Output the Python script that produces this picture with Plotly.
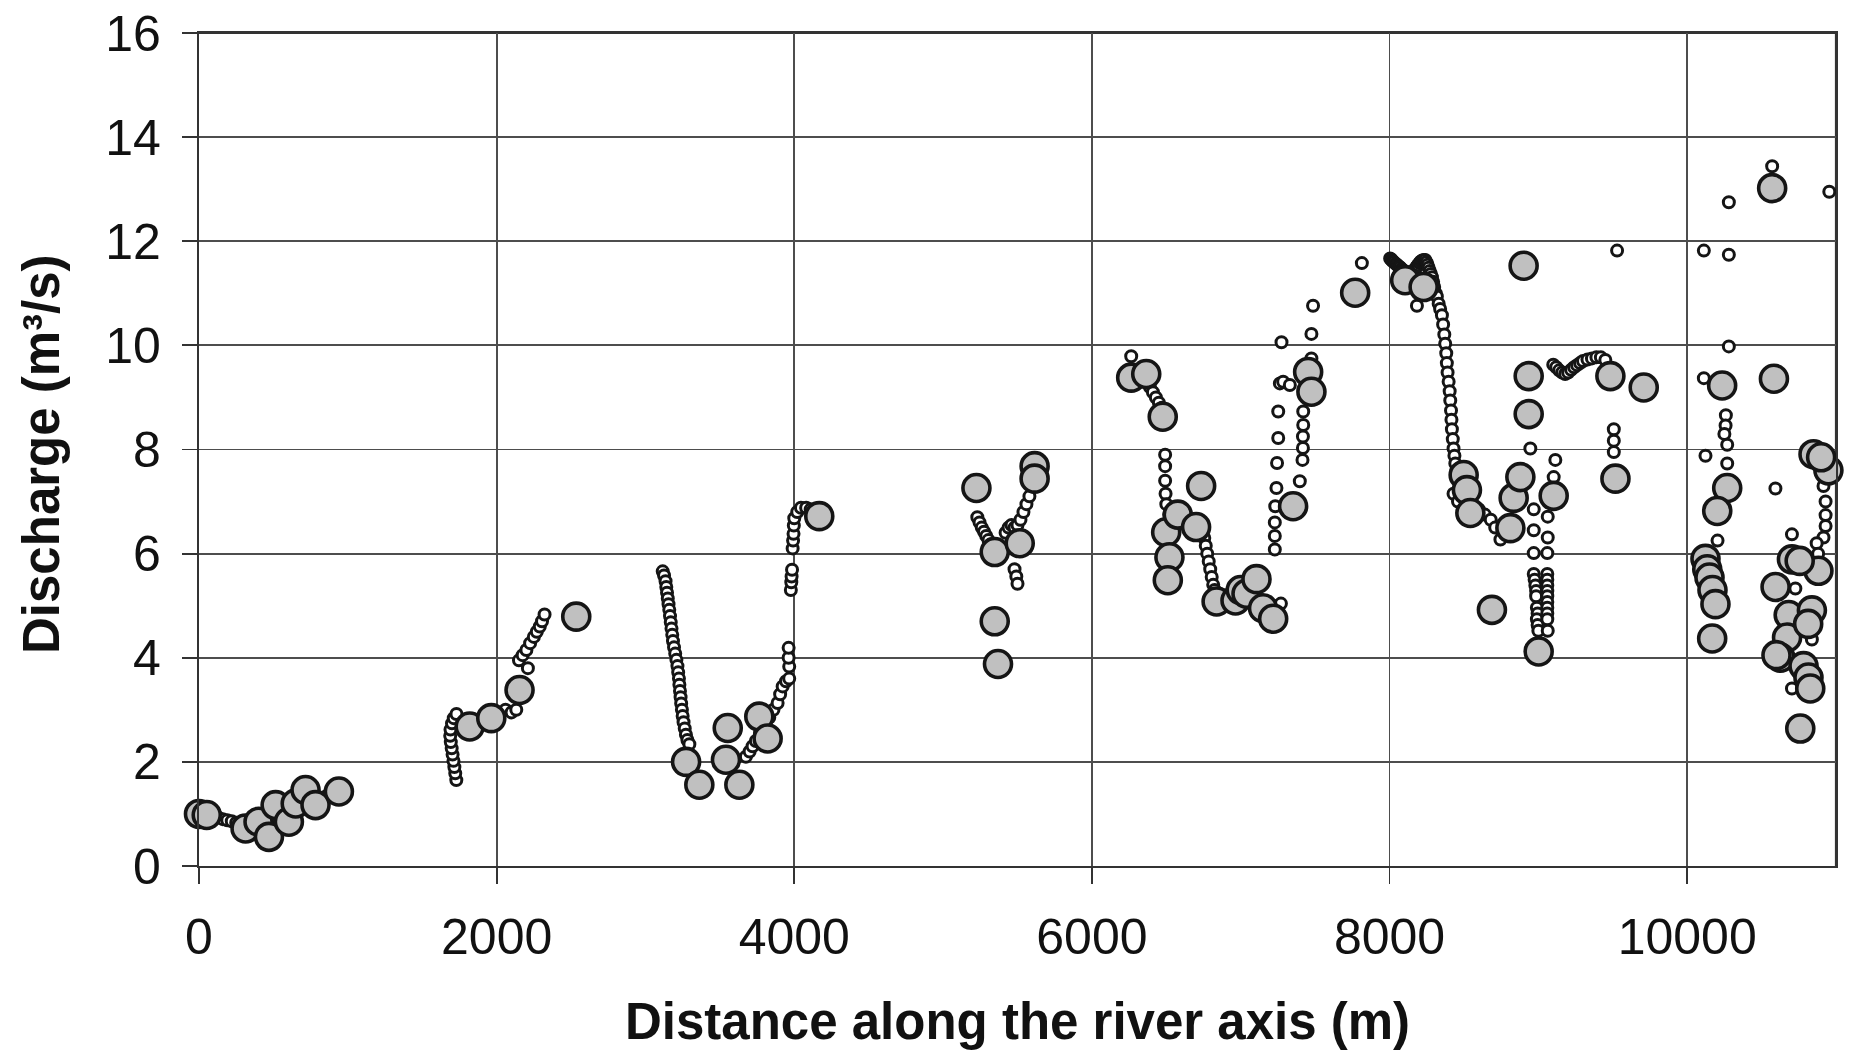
import plotly.graph_objects as go

# ---------------- data ----------------
# small open circles
small_x = [100, 130, 160, 190, 220, 250, 280, 310, 340, 370, 400, 430, 460, 490, 520, 550, 580, 620, 660, 700, 740, 780, 820, 860, 900,
           1729, 1722, 1716, 1710, 1704, 1698, 1692, 1688, 1690, 1700, 1712, 1730,
           2060, 2100, 2132, 2150, 2175, 2200, 2210, 2225, 2250, 2270, 2290, 2305, 2322,
           3116, 3125, 3135, 3140, 3145, 3150, 3155, 3160, 3165, 3170, 3175, 3180, 3185, 3192, 3200, 3208, 3215, 3220, 3225, 3228,
           3232, 3236, 3240, 3245, 3250, 3256, 3264, 3272, 3282, 3295,
           3675, 3700, 3720, 3742, 3770, 3800, 3832, 3860, 3888, 3905, 3922, 3945, 3966, 3966, 3962, 3962,
           3977, 3980, 3982, 3985, 3989, 3992, 3995, 3997, 4000, 4020, 4045, 4080, 4110, 4140,
           5230, 5245, 5260, 5275, 5290, 5305, 5320, 5335, 5420, 5440, 5460, 5480, 5500, 5520, 5540, 5560, 5580, 5600, 5480, 5492, 5500,
           6264, 6390, 6410, 6430, 6450, 6470, 6492, 6492, 6492, 6495, 6500, 6520,
           6745, 6755, 6765, 6775, 6785, 6795, 6805, 6815, 6825,
           6900, 7060, 7190, 7250, 7270,
           7229, 7229, 7229, 7232, 7240, 7244, 7252, 7252, 7263, 7274, 7285, 7330, 7397,
           7420, 7420, 7418, 7418, 7415, 7475, 7486, 7475, 7814, 8184,
           8004, 8012, 8020, 8030, 8040, 8050, 8060, 8070, 8080, 8090, 8100, 8110, 8120, 8130, 8139, 8150, 8160, 8170, 8180, 8190,
           8200, 8210, 8220, 8230, 8240, 8248, 8255, 8262, 8270, 8278, 8285, 8293, 8300, 8310, 8318, 8330,
           8340, 8352, 8360, 8368, 8374, 8381, 8385, 8390, 8397, 8404, 8408, 8413, 8416, 8419, 8425, 8430, 8436, 8442, 8450,
           8430, 8460, 8560, 8600, 8640, 8680, 8710, 8745,
           8946, 8969, 8969, 8969, 8969, 8975, 8980, 8985, 8985, 8990, 8995, 8990, 8995, 9000,
           9063, 9063, 9060, 9060, 9060, 9060, 9060, 9060, 9060, 9060, 9060, 9060, 9063, 9114, 9103, 8905,
           9100, 9120, 9140, 9160, 9180, 9200, 9220, 9240, 9260, 9280, 9300, 9330, 9360, 9390, 9420, 9450,
           9507, 9507, 9507, 9529,
           10112, 10280, 10280, 10280, 10112, 10260, 10258, 10250, 10269, 10269, 10123, 10204,
           10571, 10593, 10955, 10704, 10727, 10838, 10704, 10916, 10930, 10930, 10930, 10916, 10870, 10880, 10850, 10830]
small_y = [0.95, 0.93, 0.90, 0.88, 0.86, 0.83, 0.80, 0.77, 0.75, 0.73, 0.72, 0.75, 0.85, 0.95, 1.00, 1.05, 1.10, 1.15, 1.25, 1.30, 1.35, 1.30, 1.30, 1.35, 1.40,
           1.65, 1.78, 1.90, 2.02, 2.14, 2.26, 2.38, 2.50, 2.62, 2.74, 2.84, 2.92,
           3.00, 2.95, 3.00, 3.95, 4.05, 4.15, 3.80, 4.28, 4.40, 4.50, 4.60, 4.70, 4.83,
           5.66, 5.58, 5.47, 5.36, 5.25, 5.14, 5.03, 4.92, 4.80, 4.68, 4.56, 4.44, 4.32, 4.20, 4.08, 3.96, 3.84, 3.72, 3.60, 3.48,
           3.36, 3.24, 3.12, 3.00, 2.88, 2.76, 2.64, 2.52, 2.42, 2.34,
           2.10, 2.20, 2.30, 2.40, 2.55, 2.70, 2.85, 3.00, 3.13, 3.30, 3.45, 3.55, 3.60, 3.83, 4.00, 4.19,
           5.30, 5.45, 5.56, 5.69, 6.10, 6.25, 6.38, 6.54, 6.68, 6.80, 6.88, 6.88, 6.85, 6.82,
           6.70, 6.60, 6.50, 6.42, 6.34, 6.26, 6.18, 6.10, 6.40, 6.50, 6.55, 6.50, 6.55, 6.65, 6.80, 6.95, 7.10, 7.30, 5.70, 5.56, 5.42,
           9.79, 9.20, 9.10, 9.00, 8.90, 8.80, 7.90, 7.68, 7.40, 7.15, 6.95, 6.75,
           6.45, 6.30, 6.15, 6.00, 5.85, 5.70, 5.55, 5.40, 5.30,
           5.20, 5.35, 4.95, 5.00, 5.04,
           6.08, 6.34, 6.60, 6.91, 7.26, 7.74, 8.22, 8.73, 9.27, 10.06, 9.30, 9.24, 7.39,
           8.73, 8.47, 8.25, 8.03, 7.80, 10.22, 10.76, 9.75, 11.58, 10.76,
           11.67, 11.65, 11.62, 11.60, 11.57, 11.55, 11.52, 11.50, 11.47, 11.45, 11.42, 11.41, 11.40, 11.39, 11.38, 11.40, 11.42, 11.46, 11.50, 11.54,
           11.58, 11.61, 11.63, 11.64, 11.64, 11.60, 11.55, 11.49, 11.43, 11.37, 11.31, 11.22, 11.12, 11.00, 10.94, 10.80,
           10.70, 10.58, 10.40, 10.21, 10.03, 9.85, 9.66, 9.48, 9.30, 9.12, 8.94, 8.75, 8.57, 8.39, 8.20, 8.02, 7.88, 7.73, 7.60,
           7.15, 7.00, 6.90, 6.85, 6.75, 6.65, 6.50, 6.27,
           8.02, 6.85, 6.45, 6.01, 5.61, 5.50, 5.39, 5.28, 5.18, 4.96, 4.85, 4.74, 4.63, 4.52,
           6.71, 6.31, 6.01, 5.61, 5.50, 5.39, 5.28, 5.18, 5.07, 4.96, 4.85, 4.74, 4.52, 7.80, 7.47, 11.40,
           9.63, 9.58, 9.52, 9.48, 9.45, 9.48, 9.53, 9.58, 9.62, 9.66, 9.70, 9.73, 9.75, 9.77, 9.77, 9.72,
           8.39, 8.17, 7.95, 11.82,
           11.82, 11.74, 12.75, 9.98, 9.37, 8.66, 8.46, 8.30, 8.09, 7.73, 7.88, 6.25,
           13.44, 7.25, 12.95, 6.37, 5.33, 4.35, 3.41, 7.30, 7.00, 6.74, 6.53, 6.31, 6.20, 6.00, 8.00, 7.95]

# large grey circles
large_x = [0, 52, 313, 400, 470, 515, 604, 650, 716, 783, 940,
           1819, 1964, 2154, 2535,
           3273, 3362, 3541, 3553, 3631, 3765, 3821, 4168,
           5224, 5615, 5615, 5347, 5515, 5347, 5369,
           6264, 6365, 6476, 6499, 6521, 6510, 6577, 6700, 6734, 6838,
           6965, 7000, 7039, 7106, 7150, 7218,
           7352, 7453, 7475,
           7769, 8105, 8229,
           8498, 8520, 8543, 8812, 8834, 8879, 8688, 8901, 8935, 8935, 9002, 9103,
           9484, 9708, 9518,
           10235, 10269, 10202, 10123, 10135, 10150, 10170, 10190, 10168,
           10571, 10583, 10594, 10704, 10882, 10682, 10838, 10671, 10627, 10600, 10782, 10815, 10827, 10760,
           10849, 10949, 10900, 10756, 10813]
large_y = [1.00, 0.98, 0.72, 0.85, 0.56, 1.17, 0.85, 1.20, 1.46, 1.17, 1.43,
           2.68, 2.84, 3.38, 4.79,
           2.00, 1.56, 2.04, 2.65, 1.56, 2.87, 2.45, 6.72,
           7.26, 7.68, 7.44, 6.03, 6.20, 4.70, 3.88,
           9.38, 9.45, 8.63, 6.41, 5.93, 5.49, 6.75, 6.51, 7.30, 5.08,
           5.10, 5.30, 5.23, 5.51, 4.95, 4.75,
           6.91, 9.49, 9.11,
           11.01, 11.25, 11.12,
           7.51, 7.22, 6.78, 6.49, 7.07, 7.47, 4.92, 11.53, 9.41, 8.68, 4.12, 7.11,
           9.41, 9.19, 7.44,
           9.23, 7.26, 6.82, 5.90, 5.70, 5.54, 5.30, 5.03, 4.37,
           13.02, 9.36, 5.36, 5.89, 5.67, 4.82, 4.91, 4.39, 4.00, 4.05, 3.84, 3.62, 3.41, 2.64,
           7.91, 7.60, 7.85, 5.86, 4.65]

x_ticks = [0, 2000, 4000, 6000, 8000, 10000]
y_ticks = [0, 2, 4, 6, 8, 10, 12, 14, 16]
x_title = "Distance along the river axis (m)"
y_title = "Discharge (m³/s)"

# ---------------- layout geometry (page pixels) ----------------
W, H = 1851, 1056
PL, PR, PT, PB = 199, 1836, 33, 866   # plot area on the page
ml, mr, mt, mb = PL, W - PR, PT, H - PB
pw, ph = PR - PL, PB - PT


def px_to_paper(px, py):
    return (px - PL) / pw, (PB - py) / ph


FONT = "Liberation Sans, Arial, sans-serif"
LINE = "#151515"
GRID = "#4d4d4d"

fig = go.Figure()
fig.add_trace(go.Scatter(
    x=small_x, y=small_y, mode="markers", cliponaxis=False, hoverinfo="skip",
    marker=dict(size=11, color="white", line=dict(color=LINE, width=3)),
    showlegend=False))
fig.add_trace(go.Scatter(
    x=large_x, y=large_y, mode="markers", cliponaxis=False, hoverinfo="skip",
    marker=dict(size=27, color="#c0c0c0", line=dict(color=LINE, width=3.6)),
    showlegend=False))

fig.update_layout(
    width=W, height=H,
    margin=dict(l=ml, r=mr, t=mt, b=mb, pad=0, autoexpand=False),
    plot_bgcolor="white", paper_bgcolor="white",
    font=dict(family=FONT, color="#111111"),
    showlegend=False,
)
fig.update_xaxes(
    range=[0, 11000], tickvals=x_ticks, ticktext=[str(v) for v in x_ticks],
    automargin=False,
    showgrid=True, gridcolor=GRID, gridwidth=1.8, zeroline=False,
    showline=True, linecolor="#333333", linewidth=2.2, mirror=True,
    ticks="outside", ticklen=16, tickwidth=1.8, tickcolor="#333333",
    tickfont=dict(size=50, family=FONT, color="#111111"), ticklabelstandoff=10,
    ticklabeloverflow="allow",
)
fig.update_yaxes(
    range=[0, 16], tickvals=y_ticks, ticktext=[str(v) for v in y_ticks],
    automargin=False,
    showgrid=True, gridcolor=GRID, gridwidth=1.8, zeroline=False,
    showline=True, linecolor="#333333", linewidth=2.2, mirror=True,
    ticks="outside", ticklen=15, tickwidth=1.8, tickcolor="#333333",
    tickfont=dict(size=50, family=FONT, color="#111111"), ticklabelstandoff=11,
    ticklabeloverflow="allow",
)

# frame on top and right (plot-area border)
fig.add_shape(type="line", xref="paper", yref="paper", x0=0, x1=1, y0=1, y1=1,
              line=dict(color="#333333", width=2.2), layer="below")
fig.add_shape(type="line", xref="paper", yref="paper", x0=1, x1=1, y0=0, y1=1,
              line=dict(color="#333333", width=2.2), layer="below")

ax, ay = px_to_paper(1018, 1021)
fig.add_annotation(text=x_title, xref="paper", yref="paper", x=ax, y=ay,
                   xanchor="center", yanchor="middle", showarrow=False,
                   font=dict(size=51, family=FONT, color="#111111", weight="bold"))
bx, by = px_to_paper(41, 454)
fig.add_annotation(text=y_title, xref="paper", yref="paper", x=bx, y=by,
                   xanchor="center", yanchor="middle", showarrow=False, textangle=-90,
                   font=dict(size=51, family=FONT, color="#111111", weight="bold"))

fig.write_html(
    "out.html",
    config={"displayModeBar": False, "staticPlot": True},
    post_script="document.body.style.margin='0px';document.body.style.overflow='hidden';",
)
